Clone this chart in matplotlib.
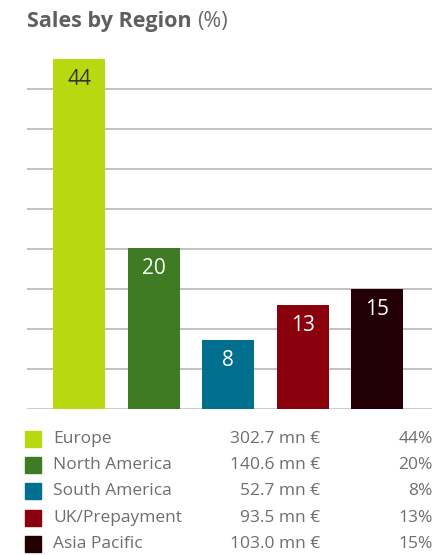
import matplotlib.pyplot as plt
from matplotlib.patches import Rectangle

regions = ["Europe", "North America", "South America", "UK/Prepayment", "Asia Pacific"]
shares = [44, 20, 8, 13, 15]               # labelled percentages
bar_heights = [43.7, 20.1, 8.6, 13.0, 15.0]  # drawn bar heights
sales_mn = [302.7, 140.6, 52.7, 93.5, 103.0]
colors = ["#b8d90f", "#3e7b22", "#00708e", "#8a000c", "#220003"]
label_colors = ["#333333", "white", "white", "white", "white"]
grid_ticks = [0, 5, 10, 15, 20, 25, 30, 35, 40]

plt.rcParams['font.family'] = ['Open Sans', 'DejaVu Sans']
W, H = 439, 555
fig = plt.figure(figsize=(W / 100, H / 100), dpi=100)

ax = fig.add_axes([27 / W, 1 - 409 / H, (432 - 27) / W, (409 - 59) / H])
x = list(range(len(regions)))
ax.bar(x, bar_heights, width=0.698, color=colors, zorder=3)
ax.set_xlim(-0.698, 4.738)
ax.set_ylim(0, 43.7)
for t in grid_ticks:
    ax.axhline(t, color="#bdbdbd", lw=1.3 if t else 1.8, zorder=1)
for sp in ax.spines.values():
    sp.set_visible(False)
ax.set_xticks([])
ax.set_yticks([])
for xi, h, v, lc in zip(x, bar_heights, shares, label_colors):
    ax.annotate(str(v), (xi, h), xytext=(0, -14.5), textcoords="offset points",
                ha="center", va="center", fontsize=15, color=lc, zorder=4)

# Title
t1 = fig.text(27 / W, 1 - 21 / H, "Sales by Region", fontsize=15.5, fontweight="bold",
              color="#5f5f5f", va="center", ha="left")
fig.canvas.draw()
bb = t1.get_window_extent(fig.canvas.get_renderer())
fig.text((bb.x1 + 6) / W, 1 - 21 / H, "(%)", fontsize=15.5, color="#6a6a6a",
         va="center", ha="left")

# Legend table
rows_y = [439, 465, 491, 518, 544]
for name, val, pct, c, yy in zip(regions, sales_mn, shares, colors, rows_y):
    fig.patches.append(Rectangle((25 / W, 1 - (yy + 8) / H), 16 / W, 16 / H,
                                 transform=fig.transFigure, color=c))
    fig.text(53 / W, 1 - yy / H, name, fontsize=12.5, color="#6e6e6e", va="center", ha="left")
    fig.text(320 / W, 1 - yy / H, f"{val:.1f} mn €", fontsize=12.5, color="#6e6e6e",
             va="center", ha="right")
    fig.text(433 / W, 1 - yy / H, f"{pct}%", fontsize=12.5, color="#6e6e6e",
             va="center", ha="right")

fig.savefig("out.png", dpi=100)
